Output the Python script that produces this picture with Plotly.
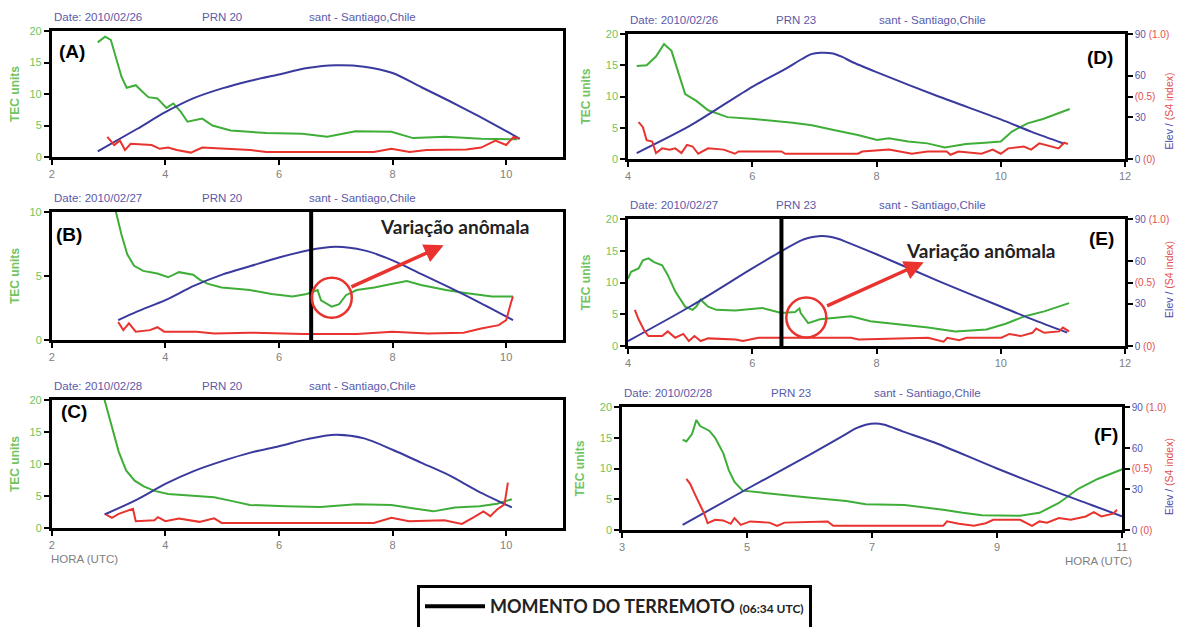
import plotly.graph_objects as go

W, H = 1185, 627
OFF = 8                      # page body margin of the html page
FW, FH = W - OFF, H - OFF    # figure size so that it fits the window exactly
FONT = "Liberation Sans"
GREEN = "#3fae38"
BLUE = "#3a3a9e"
RED = "#e8332e"
TICK_GREEN = "#72c45e"
HEAD_COLOR = "#5a5aaa"
RIGHT_BLUE = "#5555b0"

# ---------------- data ----------------
panel_letters = ["A", "B", "C", "D", "E", "F"]
panel_dates = ["Date: 2010/02/26", "Date: 2010/02/27", "Date: 2010/02/28",
               "Date: 2010/02/26", "Date: 2010/02/27", "Date: 2010/02/28"]
panel_prns = ["PRN 20", "PRN 20", "PRN 20", "PRN 23", "PRN 23", "PRN 23"]
station_label = "sant - Santiago,Chile"
x_ranges = [[2, 11], [2, 11], [2, 11], [4, 12], [4, 12], [3, 11]]
x_tickvals = [[2, 4, 6, 8, 10], [2, 4, 6, 8, 10], [2, 4, 6, 8, 10],
              [4, 6, 8, 10, 12], [4, 6, 8, 10, 12], [3, 5, 7, 9, 11]]
tec_max = [20, 10, 20, 20, 20, 20]
elev_tickvals = [0, 30, 45, 60, 90]
elev_ticktext = ["0 <span style='color:#e05050'>(0)</span>", "30",
                 "<span style='color:#e05050'>(0.5)</span>", "60",
                 "90 <span style='color:#e05050'>(1.0)</span>"]
right_title = ("<span style='color:#4a4aaa'>Elev / </span>"
               "<span style='color:#e05050'>(S4 index)</span>")
quake_label = ("<b>MOMENTO DO TERREMOTO</b> "
               "<b><span style='font-size:12px'>(06:34 UTC)</span></b><br> ")

# Panel A  (2010/02/26, PRN 20)
a_tec_t = [2.81, 2.94, 3.04, 3.13, 3.23, 3.32, 3.48, 3.57, 3.70, 3.86, 4.02, 4.14, 4.27, 4.39,
           4.65, 4.83, 5.15, 5.78, 6.41, 6.85, 7.10, 7.35, 7.98, 8.36, 8.93, 9.56, 10.19]
a_tec = [18.2, 19.1, 18.6, 15.6, 12.7, 11.0, 11.4, 10.6, 9.5, 9.3, 7.8, 8.5, 7.2, 5.6,
         6.1, 5.0, 4.2, 3.8, 3.7, 3.2, 3.7, 4.1, 4.0, 3.0, 3.2, 2.9, 2.8]
a_elev_t = [2.81, 3.5, 4.0, 4.5, 5.0, 5.5, 6.0, 6.5, 7.0, 7.5, 8.0, 8.5, 9.0, 9.5, 10.0, 10.24]
a_elev = [4, 20, 32, 42, 49, 54.5, 59, 63.5, 65.5, 64.5, 60, 50, 40, 29.5, 18.5, 13]
a_s4_t = [2.98, 3.10, 3.20, 3.29, 3.39, 3.60, 3.76, 3.90, 4.05, 4.20, 4.45, 4.65, 5.15, 5.50,
          5.78, 7.67, 7.98, 8.30, 8.60, 8.93, 9.30, 9.56, 9.81, 10.00, 10.13, 10.22]
a_s4 = [0.16, 0.095, 0.13, 0.055, 0.105, 0.10, 0.095, 0.065, 0.075, 0.055, 0.035, 0.075, 0.065,
        0.055, 0.04, 0.04, 0.065, 0.04, 0.055, 0.06, 0.06, 0.075, 0.13, 0.095, 0.16, 0.145]

# Panel B  (2010/02/27, PRN 20)
b_tec_t = [3.08, 3.12, 3.23, 3.33, 3.45, 3.61, 3.86, 4.05, 4.24, 4.49, 4.61, 4.74, 4.99, 5.49,
           5.87, 6.24, 6.49, 6.55, 6.68, 6.74, 6.84, 6.93, 7.06, 7.18, 7.37, 7.68, 8.00, 8.25,
           8.50, 8.94, 9.25, 9.75, 10.00, 10.12]
b_tec = [11.5, 10.2, 8.2, 6.7, 5.8, 5.4, 5.2, 4.9, 5.3, 5.1, 4.7, 4.4, 4.1, 3.9,
         3.6, 3.4, 3.6, 3.7, 3.9, 3.1, 2.8, 2.6, 2.8, 3.5, 3.9, 4.1, 4.4, 4.6,
         4.3, 3.9, 3.7, 3.4, 3.4, 3.4]
b_elev_t = [3.17, 3.5, 4.0, 4.5, 5.0, 5.5, 6.0, 6.5, 7.0, 7.5, 8.0, 8.5, 9.0, 9.5, 10.12]
b_elev = [14, 20, 28, 38, 46, 52, 58, 63, 65.5, 63, 56, 46.5, 37, 27, 14]
b_s4_t = [3.17, 3.26, 3.36, 3.48, 3.73, 3.86, 3.98, 4.55, 4.86, 5.49, 6.43, 7.37, 8.00, 8.62,
          9.25, 9.56, 9.87, 10.00, 10.09, 10.12]
b_s4 = [0.14, 0.077, 0.13, 0.065, 0.077, 0.10, 0.065, 0.065, 0.05, 0.057, 0.046, 0.046, 0.065,
        0.05, 0.057, 0.09, 0.116, 0.155, 0.30, 0.34]

# Panel C  (2010/02/28, PRN 20)
c_tec_t = [2.90, 2.93, 3.06, 3.18, 3.31, 3.46, 3.62, 3.81, 4.05, 4.55, 4.86, 5.18, 5.49, 6.11,
           6.73, 7.36, 7.98, 8.35, 8.72, 9.10, 9.53, 9.84, 10.10]
c_tec = [21.0, 20.0, 15.9, 11.9, 9.0, 7.4, 6.5, 5.8, 5.3, 5.0, 4.8, 4.2, 3.6, 3.4,
         3.3, 3.7, 3.6, 3.1, 2.6, 3.2, 3.4, 3.8, 4.5]
c_elev_t = [2.93, 3.5, 4.0, 4.5, 5.0, 5.5, 6.0, 6.5, 7.0, 7.5, 8.0, 8.5, 9.0, 9.5, 10.1]
c_elev = [9.5, 20, 31, 40, 47, 53, 57.5, 62.5, 65.5, 63, 55, 46, 37, 26, 14.5]
c_s4_t = [2.96, 3.06, 3.18, 3.37, 3.43, 3.48, 3.81, 3.87, 4.00, 4.24, 4.60, 4.86, 4.99, 6.11,
          7.67, 7.98, 8.29, 8.91, 9.22, 9.41, 9.60, 9.72, 9.84, 9.97, 10.03]
c_s4 = [0.105, 0.08, 0.11, 0.145, 0.15, 0.053, 0.06, 0.085, 0.053, 0.075, 0.048, 0.075, 0.04,
        0.04, 0.04, 0.08, 0.053, 0.06, 0.032, 0.08, 0.13, 0.093, 0.145, 0.185, 0.355]

# Panel D  (2010/02/26, PRN 23)
d_tec_t = [4.14, 4.30, 4.45, 4.58, 4.70, 4.82, 4.92, 5.10, 5.29, 5.60, 6.03, 6.65, 6.96, 7.33,
           7.70, 8.01, 8.20, 8.51, 8.82, 9.10, 9.44, 9.75, 10.00, 10.18, 10.43, 10.68, 11.11]
d_tec = [14.9, 15.0, 16.4, 18.4, 17.3, 13.6, 10.4, 9.3, 7.8, 6.7, 6.4, 5.8, 5.4, 4.6,
         3.85, 3.05, 3.3, 2.8, 2.5, 1.84, 2.4, 2.6, 2.8, 4.4, 5.7, 6.4, 8.0]
d_elev_t = [4.14, 5.0, 6.0, 6.5, 6.8, 6.95, 7.1, 7.3, 7.45, 7.6, 8.0, 9.0, 10.0, 10.5, 11.02]
d_elev = [4.3, 24, 52, 64, 72, 75.5, 76.5, 76, 73.5, 70, 62.5, 45, 28.5, 19.5, 11]
d_s4_t = [4.17, 4.24, 4.30, 4.39, 4.45, 4.55, 4.67, 4.76, 4.86, 4.95, 5.04, 5.13, 5.29, 5.54,
          5.72, 5.78, 6.47, 6.53, 7.70, 7.77, 8.20, 8.39, 8.57, 8.82, 9.13, 9.19, 9.32, 9.69,
          9.87, 10.00, 10.12, 10.37, 10.49, 10.62, 10.80, 10.93, 11.02, 11.08]
d_s4 = [0.295, 0.255, 0.15, 0.14, 0.048, 0.085, 0.075, 0.085, 0.048, 0.113, 0.10, 0.042, 0.085,
        0.075, 0.042, 0.06, 0.06, 0.042, 0.042, 0.06, 0.075, 0.06, 0.042, 0.06, 0.06, 0.034,
        0.06, 0.042, 0.075, 0.042, 0.085, 0.10, 0.075, 0.125, 0.10, 0.085, 0.13, 0.12]

# Panel E  (2010/02/27, PRN 23)
e_tec_t = [4.00, 4.05, 4.17, 4.24, 4.33, 4.42, 4.55, 4.64, 4.76, 4.92, 5.04, 5.10, 5.17, 5.29,
           5.42, 5.73, 6.16, 6.47, 6.69, 6.76, 6.78, 6.81, 6.90, 7.09, 7.28, 7.59, 7.90, 8.21,
           8.83, 9.27, 9.77, 10.08, 10.39, 10.70, 11.10]
e_tec = [10.6, 11.7, 12.2, 13.5, 13.8, 13.2, 12.7, 11.2, 8.6, 6.2, 5.7, 6.2, 7.3, 6.2,
         5.7, 5.6, 6.0, 5.2, 5.35, 5.9, 5.2, 4.8, 3.6, 4.2, 4.4, 4.7, 3.9, 3.6,
         2.9, 2.3, 2.6, 3.5, 4.7, 5.45, 6.75]
e_elev_t = [4.0, 5.0, 6.0, 6.5, 6.8, 6.9, 7.0, 7.12, 7.25, 7.38, 7.5, 8.0, 9.0, 10.0, 10.5, 11.07]
e_elev = [3.5, 28, 55, 68, 75, 76.5, 77.5, 78, 77.5, 76, 74, 65, 46, 28, 19, 9.5]
e_s4_t = [4.11, 4.17, 4.27, 4.33, 4.55, 4.64, 4.76, 4.89, 4.98, 5.07, 5.17, 5.29, 5.73, 5.85,
          6.10, 7.59, 7.71, 8.83, 9.08, 9.14, 9.33, 9.45, 10.01, 10.14, 10.32, 10.51, 10.57,
          10.70, 10.94, 11.00, 11.10]
e_s4 = [0.285, 0.21, 0.115, 0.078, 0.078, 0.115, 0.065, 0.095, 0.039, 0.078, 0.039, 0.06, 0.052,
        0.039, 0.065, 0.065, 0.052, 0.065, 0.034, 0.065, 0.045, 0.065, 0.065, 0.095, 0.078,
        0.104, 0.1375, 0.104, 0.115, 0.145, 0.115]

# Panel F  (2010/02/28, PRN 23)
f_tec_t = [3.97, 4.03, 4.12, 4.19, 4.25, 4.40, 4.49, 4.62, 4.71, 4.80, 4.93, 5.36, 5.98, 6.59,
           6.90, 7.52, 8.14, 8.45, 8.76, 9.37, 9.68, 9.99, 10.30, 10.61, 11.01]
f_tec = [14.7, 14.4, 15.6, 17.9, 16.9, 16.1, 15.0, 12.5, 9.7, 7.8, 6.4, 6.0, 5.3, 4.7,
         4.2, 4.05, 3.3, 2.8, 2.4, 2.3, 2.8, 4.4, 6.7, 8.3, 9.9]
f_elev_t = [3.97, 5.0, 6.0, 6.5, 6.75, 6.9, 7.05, 7.2, 7.5, 8.0, 9.0, 10.0, 10.5, 11.0]
f_elev = [3.75, 30, 55, 68, 74.5, 77, 78, 77, 72, 64, 45, 27, 18.5, 10]
f_s4_t = [4.03, 4.09, 4.19, 4.31, 4.37, 4.49, 4.62, 4.74, 4.80, 4.90, 5.05, 5.36, 5.48, 5.60,
          6.29, 6.38, 8.14, 8.20, 8.39, 8.63, 8.82, 8.94, 9.37, 9.56, 9.68, 9.80, 9.99, 10.18,
          10.42, 10.55, 10.67, 10.86, 10.92]
f_s4 = [0.415, 0.375, 0.265, 0.14, 0.055, 0.083, 0.078, 0.05, 0.097, 0.042, 0.07, 0.06, 0.034,
        0.06, 0.07, 0.034, 0.034, 0.07, 0.05, 0.034, 0.055, 0.083, 0.083, 0.034, 0.07, 0.06,
        0.097, 0.083, 0.11, 0.145, 0.11, 0.133, 0.165]

tec_series = [(a_tec_t, a_tec), (b_tec_t, b_tec), (c_tec_t, c_tec),
              (d_tec_t, d_tec), (e_tec_t, e_tec), (f_tec_t, f_tec)]
elev_series = [(a_elev_t, a_elev), (b_elev_t, b_elev), (c_elev_t, c_elev),
               (d_elev_t, d_elev), (e_elev_t, e_elev), (f_elev_t, f_elev)]
s4_series = [(a_s4_t, a_s4), (b_s4_t, b_s4), (c_s4_t, c_s4),
             (d_s4_t, d_s4), (e_s4_t, e_s4), (f_s4_t, f_s4)]

# earthquake marker line (as drawn in each panel) and anomaly annotations
quake_line_x = {"B": 6.567, "E": 6.47}
anomaly_center = {"B": (6.93, 3.3), "E": (6.87, 4.5)}
arrow_tail = {"B": (7.25, 4.1), "E": (7.18, 6.2)}
arrow_head = {"B": (8.9, 7.4), "E": (8.76, 13.2)}
anomaly_text_pos = {"B": (9.1, 8.9), "E": (9.68, 15.1)}
anomaly_text = "Variação anômala"
panel_label_pos = {"A": (2.09, 16.7), "B": (2.04, 8.25), "C": (2.12, 18.25),
                   "D": (11.36, 16.2), "E": (11.39, 16.9), "F": (10.52, 15.6)}
right_title_frac = {"D": 0.38, "E": 0.52, "F": 0.43}

# ---------------- layout geometry (window pixels) ----------------
geom = {
    "A": (51.7, 563, 31, 157),
    "B": (51.7, 563, 212, 340),
    "C": (51.7, 563, 400, 528),
    "D": (628, 1125, 34, 159),
    "E": (628, 1125, 219, 346),
    "F": (622, 1122, 407, 530),
}
head_frac = {True: [0.0, 0.291, 0.5], False: [0.0, 0.294, 0.5]}


def fx(px):
    return (px - OFF) / FW


def fy(py):
    return 1 - (py - OFF) / FH


fig = go.Figure()
layout = {}
annotations = []
shapes = []

for i, L in enumerate(panel_letters):
    xn = i + 1
    yt, ye, ys = 3 * i + 1, 3 * i + 2, 3 * i + 3
    xref = "x" if xn == 1 else f"x{xn}"
    ytref = "y" if yt == 1 else f"y{yt}"
    yeref = f"y{ye}"
    ysref = f"y{ys}"
    x0, x1, top, bot = geom[L]
    right = L in ("D", "E", "F")
    xdom = [fx(x0), fx(x1)]
    ydom = [fy(bot), fy(top)]

    layout["xaxis" if xn == 1 else f"xaxis{xn}"] = dict(
        domain=xdom, range=x_ranges[i], anchor=ytref, tickvals=x_tickvals[i],
        ticks="outside", ticklen=5, tickwidth=2, tickcolor="black",
        showline=True, linewidth=2.5, linecolor="black", mirror=True,
        showgrid=False, zeroline=False,
        tickfont=dict(family=FONT, size=11, color="#808080"))
    tv = [0, 5, 10, 15, 20] if tec_max[i] == 20 else [0, 5, 10]
    layout["yaxis" if yt == 1 else f"yaxis{yt}"] = dict(
        domain=ydom, range=[0, tec_max[i]], anchor=xref, tickvals=tv,
        ticks="outside", ticklen=5, tickwidth=2, tickcolor="black",
        showline=True, linewidth=2.5, linecolor="black", mirror=True,
        showgrid=False, zeroline=False,
        tickfont=dict(family=FONT, size=11, color=TICK_GREEN),
        title=dict(text="TEC units", standoff=13,
                   font=dict(family=FONT, size=12, color=TICK_GREEN, weight="bold")))
    if right:
        layout[f"yaxis{ye}"] = dict(
            overlaying=ytref, anchor=xref, side="right", range=[0, 90],
            tickvals=elev_tickvals, ticktext=elev_ticktext,
            ticks="outside", ticklen=5, tickwidth=2, tickcolor="black",
            showline=True, linewidth=2.5, linecolor="black",
            showgrid=False, zeroline=False,
            tickfont=dict(family=FONT, size=10, color=RIGHT_BLUE))
        annotations.append(dict(x=fx(1169), y=right_title_frac[L], xref="paper",
                                yref=f"{ytref} domain", textangle=-90,
                                xanchor="center", yanchor="middle", showarrow=False,
                                text=right_title, font=dict(family=FONT, size=10.5)))
    else:
        layout[f"yaxis{ye}"] = dict(overlaying=ytref, anchor=xref, range=[0, 90],
                                    visible=False)
    layout[f"yaxis{ys}"] = dict(overlaying=ytref, anchor=xref, range=[0, 1], visible=False)

    t, v = tec_series[i]
    fig.add_trace(go.Scatter(x=t, y=v, xaxis=xref, yaxis=ytref, mode="lines",
                             line=dict(color=GREEN, width=2), showlegend=False))
    t, v = elev_series[i]
    fig.add_trace(go.Scatter(x=t, y=v, xaxis=xref, yaxis=yeref, mode="lines",
                             line=dict(color=BLUE, width=2, shape="spline", smoothing=0.8),
                             showlegend=False))
    t, v = s4_series[i]
    fig.add_trace(go.Scatter(x=t, y=v, xaxis=xref, yaxis=ysref, mode="lines",
                             line=dict(color=RED, width=2), showlegend=False))

    if L in quake_line_x:
        qx = quake_line_x[L]
        fig.add_trace(go.Scatter(
            x=[qx, qx], y=[0, 1], xaxis=xref, yaxis=ysref, mode="lines",
            line=dict(color="black", width=4), name=quake_label,
            showlegend=(L == "B")))
        cx, cy = anomaly_center[L]
        shapes.append(dict(type="circle", xref=xref, yref=ytref, xsizemode="pixel",
                           ysizemode="pixel", xanchor=cx, yanchor=cy,
                           x0=-20, x1=20, y0=-20, y1=20,
                           line=dict(color=RED, width=2.5)))
        tx, ty = arrow_tail[L]
        hx, hy = arrow_head[L]
        annotations.append(dict(x=hx, y=hy, xref=xref, yref=ytref, ax=tx, ay=ty,
                                axref=xref, ayref=ytref, showarrow=True, text="",
                                arrowhead=2, arrowsize=1.1, arrowwidth=3.5,
                                arrowcolor=RED))
        px_, py_ = anomaly_text_pos[L]
        annotations.append(dict(x=px_, y=py_, xref=xref, yref=ytref, showarrow=False,
                                text=anomaly_text,
                                font=dict(family="Lato", size=19, color="#222222",
                                          weight="bold")))

    lx, ly = panel_label_pos[L]
    annotations.append(dict(x=lx, y=ly, xref=xref, yref=ytref, xanchor="left",
                            showarrow=False, text=f"({L})",
                            font=dict(family=FONT, size=19, color="black", weight="bold")))
    for frac, txt in zip(head_frac[not right], [panel_dates[i], panel_prns[i], station_label]):
        annotations.append(dict(x=frac, y=1, xref=f"{xref} domain", yref=f"{ytref} domain",
                                xanchor="left", yanchor="middle", yshift=14,
                                showarrow=False, text=txt,
                                font=dict(family=FONT, size=11.5, color=HEAD_COLOR)))
    if L == "C":
        annotations.append(dict(x=0, y=0, xref=f"{xref} domain", yref=f"{ytref} domain",
                                xanchor="left", yanchor="middle", yshift=-31, xshift=-3,
                                showarrow=False, text="HORA (UTC)",
                                font=dict(family=FONT, size=11.5, color="#808080")))
    if L == "F":
        annotations.append(dict(x=1, y=0, xref=f"{xref} domain", yref=f"{ytref} domain",
                                xanchor="right", yanchor="middle", yshift=-31, xshift=12,
                                showarrow=False, text="HORA (UTC)",
                                font=dict(family=FONT, size=11.5, color="#808080")))

fig.update_layout(
    width=FW, height=FH,
    margin=dict(l=0, r=0, t=0, b=0, autoexpand=False),
    paper_bgcolor="white", plot_bgcolor="rgba(0,0,0,0)",
    showlegend=True,
    legend=dict(x=fx(417), y=fy(585), xanchor="left", yanchor="top",
                bordercolor="black", borderwidth=3, bgcolor="white",
                font=dict(family="Lato", size=18, color="#222222"),
                itemwidth=60, valign="top"),
    annotations=annotations, shapes=shapes,
    **layout)

fig.write_html("out.html")
